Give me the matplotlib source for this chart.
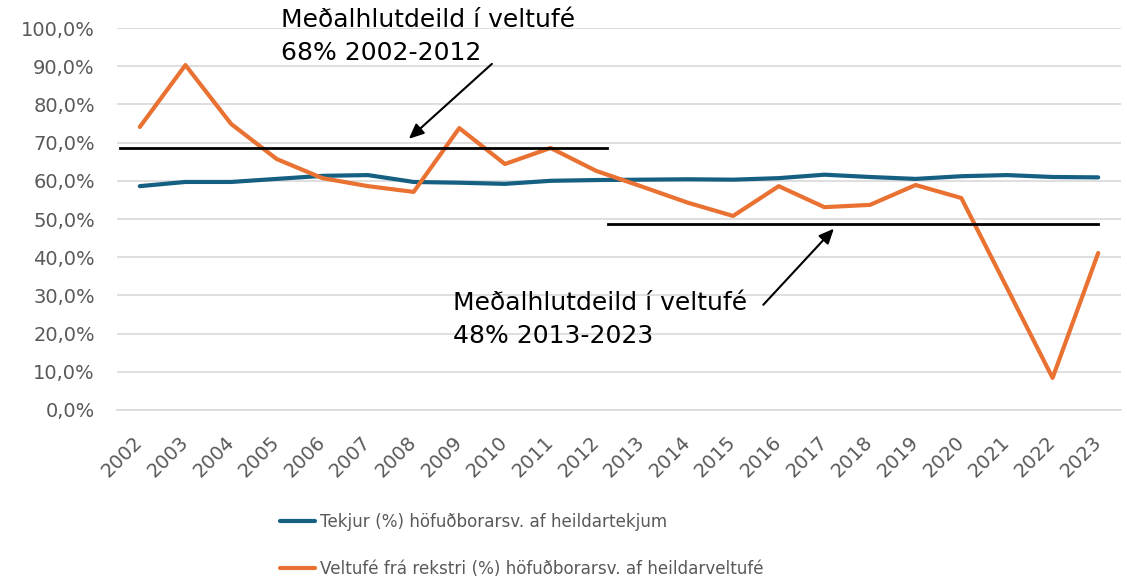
import matplotlib
matplotlib.use("Agg")
import matplotlib.pyplot as plt
from matplotlib.ticker import FuncFormatter

# data
years = list(range(2002, 2024))
tekjur = [58.6, 59.7, 59.7, 60.5, 61.3, 61.5, 59.7, 59.5, 59.2, 60.0, 60.2,
          60.3, 60.4, 60.3, 60.7, 61.6, 61.0, 60.5, 61.2, 61.5, 61.0, 60.9]
veltufe = [74.1, 90.3, 74.9, 65.7, 60.7, 58.6, 57.1, 73.8, 64.4, 68.6, 62.6,
           58.5, 54.3, 50.8, 58.6, 53.1, 53.7, 58.9, 55.5, 32.0, 8.4, 41.1]
label_tekjur = "Tekjur (%) höfuðborarsv. af heildartekjum"
label_veltufe = "Veltufé frá rekstri (%) höfuðborarsv. af heildarveltufé"
mean_early = 68.6
mean_late = 48.7
note_early = "Meðalhlutdeild í veltufé\n68% 2002-2012"
note_late = "Meðalhlutdeild í veltufé\n48% 2013-2023"

blue = "#156082"
orange = "#E97132"
gray = "#595959"

fig = plt.figure(figsize=(11.27, 5.79), dpi=100)
ax = fig.add_axes([0.1038, 0.2919, 0.8909, 0.6597])

ax.plot(years, tekjur, color=blue, linewidth=3, solid_capstyle="round",
        label=label_tekjur, zorder=3)
ax.plot(years, veltufe, color=orange, linewidth=3, solid_capstyle="round",
        label=label_veltufe, zorder=3)

# mean lines
ax.plot([2001.56, 2012.24], [mean_early, mean_early], color="black", linewidth=2, zorder=4)
ax.plot([2012.26, 2023.0], [mean_late, mean_late], color="black", linewidth=2, zorder=4)

arrow = dict(arrowstyle="-|>,head_length=0.9,head_width=0.4", color="black", lw=1.5)
ax.annotate("", xy=(2007.85, 70.5), xytext=(2009.76, 91.1), arrowprops=arrow)
ax.annotate("", xy=(2017.25, 48.0), xytext=(2015.62, 27.0), arrowprops=arrow)
ax.text(281, 579 - 8, note_early, transform=None, fontsize=18, va="top",
        ha="left", linespacing=1.45)
ax.text(453, 579 - 291, note_late, transform=None, fontsize=18, va="top",
        ha="left", linespacing=1.45)

ax.set_xlim(2001.5, 2023.5)
ax.set_ylim(0, 100)
ax.set_yticks(range(0, 101, 10))
ax.yaxis.set_major_formatter(FuncFormatter(lambda v, p: f"{v:.1f}%".replace(".", ",")))
ax.set_xticks(years)
ax.set_xticklabels([str(y) for y in years], rotation=45, ha="right", va="center",
                   rotation_mode="anchor", fontsize=14, color=gray)
for lab in ax.get_yticklabels():
    lab.set_fontsize(14)
    lab.set_color(gray)

ax.grid(axis="y", color="#D9D9D9", linewidth=1.2)
ax.set_axisbelow(True)
for s in ["top", "right", "left"]:
    ax.spines[s].set_visible(False)
ax.spines["bottom"].set_color("#D9D9D9")
ax.spines["bottom"].set_linewidth(1.2)
ax.tick_params(axis="y", length=0, pad=16)
ax.tick_params(axis="x", length=0, pad=21)

fig.legend(loc="upper left", bbox_to_anchor=(265 / 1127, 1 - 498 / 579),
           frameon=False, handlelength=2.1, handletextpad=0.25,
           labelspacing=1.72, fontsize=12.1, labelcolor=gray)

fig.savefig("out.png", dpi=100)
